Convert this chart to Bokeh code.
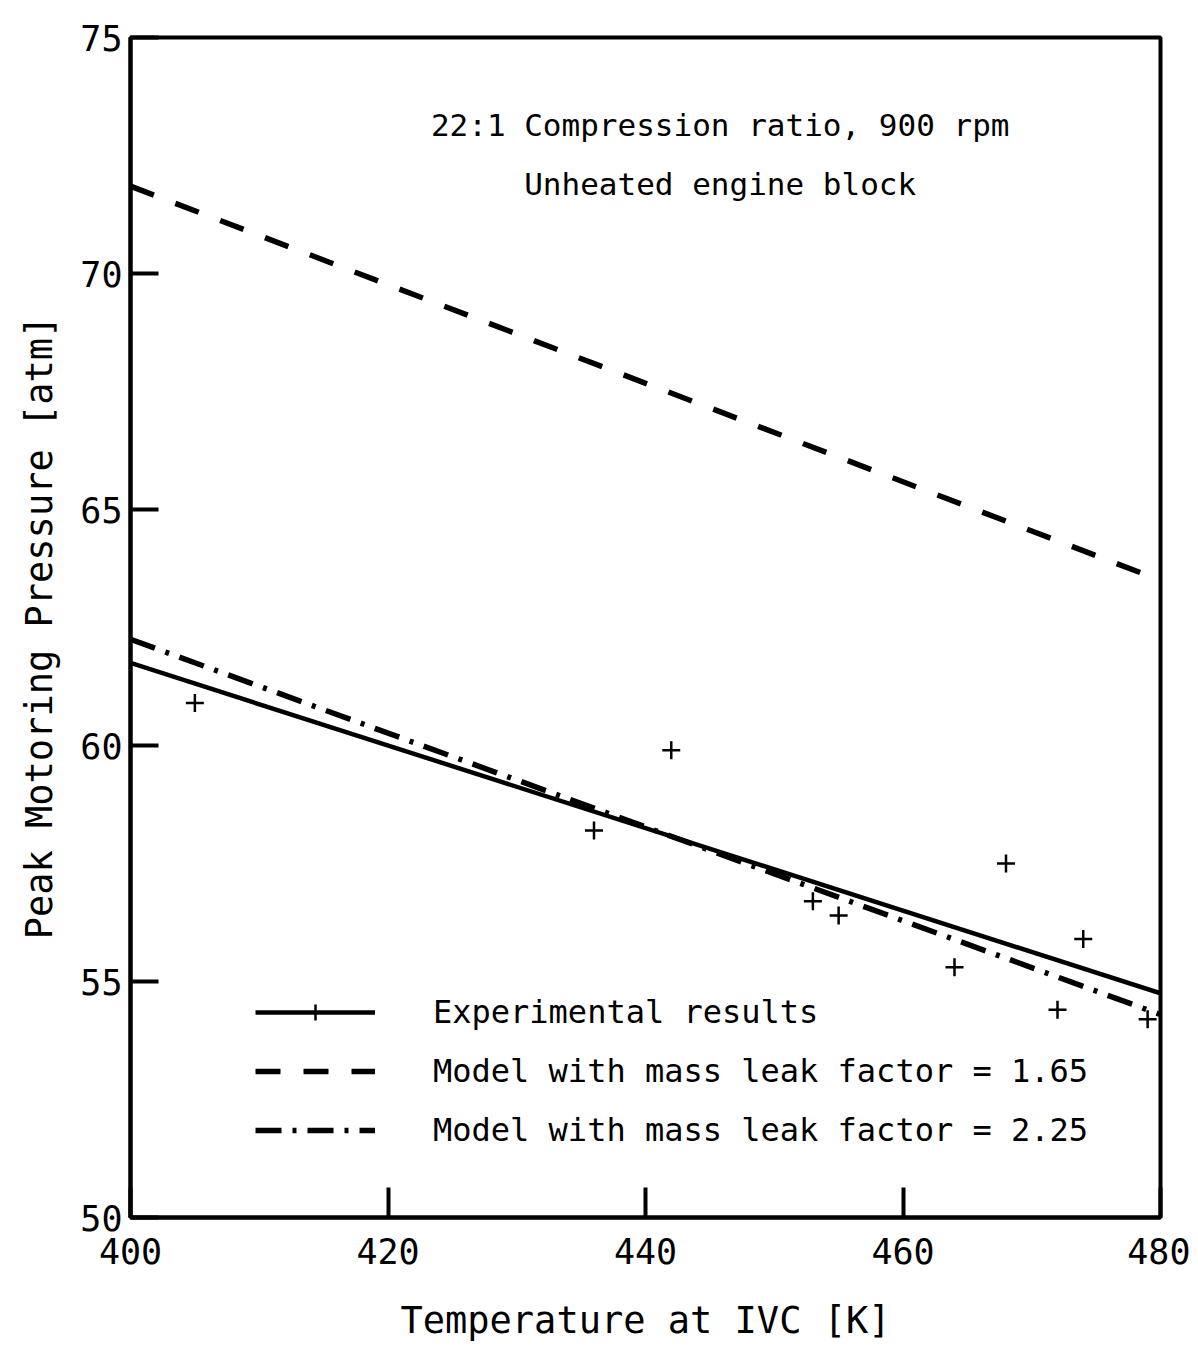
from bokeh.plotting import figure
from bokeh.models import Label, Legend, LegendItem, FixedTicker, Range1d
from bokeh.embed import file_html
from bokeh.resources import INLINE

# ---- data ----
exp_temp = [405, 436, 442, 453, 455, 464, 468, 472, 474, 479]
exp_pressure = [60.9, 58.2, 59.9, 56.7, 56.4, 55.3, 57.5, 54.4, 55.9, 54.2]

line_temp = [400, 480]
fit_experimental = [61.75, 54.75]
model_leak_165 = [71.85, 63.5]
model_leak_225 = [62.25, 54.3]

x_ticks = [400, 420, 440, 460, 480]
y_ticks = [50, 55, 60, 65, 70, 75]

FONT = "DejaVu Sans Mono"

p = figure(width=1190, height=1353, output_backend="svg", toolbar_location=None,
           x_range=Range1d(400, 480), y_range=Range1d(50, 75),
           min_border_left=130, min_border_top=37, min_border_right=30, min_border_bottom=136)

p.background_fill_color = "white"
p.border_fill_color = "white"
p.xgrid.visible = False
p.ygrid.visible = False
p.outline_line_color = "black"
p.outline_line_width = 4

for ax in (p.xaxis[0], p.yaxis[0]):
    ax.axis_line_width = 4
    ax.axis_line_color = "black"
    ax.major_tick_line_width = 4
    ax.major_tick_out = 0
    ax.minor_tick_line_color = None
    ax.major_label_text_font = FONT
    ax.major_label_text_font_size = "35px"
    ax.major_label_text_color = "black"
    ax.axis_label_text_font = FONT
    ax.axis_label_text_font_size = "37px"
    ax.axis_label_text_font_style = "normal"
    ax.axis_label_text_color = "black"

p.xaxis.ticker = FixedTicker(ticks=x_ticks)
p.yaxis.ticker = FixedTicker(ticks=y_ticks)
p.xaxis.major_tick_in = 30
p.yaxis.major_tick_in = 28
p.xaxis.major_label_standoff = 20
p.yaxis.major_label_standoff = 8
p.xaxis.axis_label = "Temperature at IVC [K]"
p.yaxis.axis_label = "Peak Motoring Pressure [atm]"
p.xaxis.axis_label_standoff = 32
p.yaxis.axis_label_standoff = 16

r_fit = p.line(line_temp, fit_experimental, line_color="black", line_width=4.5)
r_165 = p.line(line_temp, model_leak_165, line_color="black", line_width=5.5, line_dash="25 23")
r_225 = p.line(line_temp, model_leak_225, line_color="black", line_width=5.5, line_dash="26 11 4 11")
r_pts = p.scatter(exp_temp, exp_pressure, marker="cross", size=18, line_color="black", line_width=2.5)

legend = Legend(items=[
    LegendItem(label="Experimental results", renderers=[r_fit, r_pts]),
    LegendItem(label="Model with mass leak factor = 1.65", renderers=[r_165]),
    LegendItem(label="Model with mass leak factor = 2.25", renderers=[r_225]),
], location=(125, 67))
legend.glyph_width = 120
legend.glyph_height = 40
legend.label_height = 40
legend.spacing = 19
legend.label_standoff = 58
legend.padding = 0
legend.margin = 0
legend.border_line_alpha = 0
legend.background_fill_alpha = 0
legend.label_text_font = FONT
legend.label_text_font_size = "32px"
legend.label_text_color = "black"
p.add_layout(legend)

p.add_layout(Label(x=445.8, y=73.14, text="22:1 Compression ratio, 900 rpm", text_align="center",
                   text_baseline="middle", text_font=FONT, text_font_size="31px", text_color="black"))
p.add_layout(Label(x=445.8, y=71.9, text="Unheated engine block", text_align="center",
                   text_baseline="middle", text_font=FONT, text_font_size="31px", text_color="black"))

open("out.html", "w").write(file_html(p, INLINE))
